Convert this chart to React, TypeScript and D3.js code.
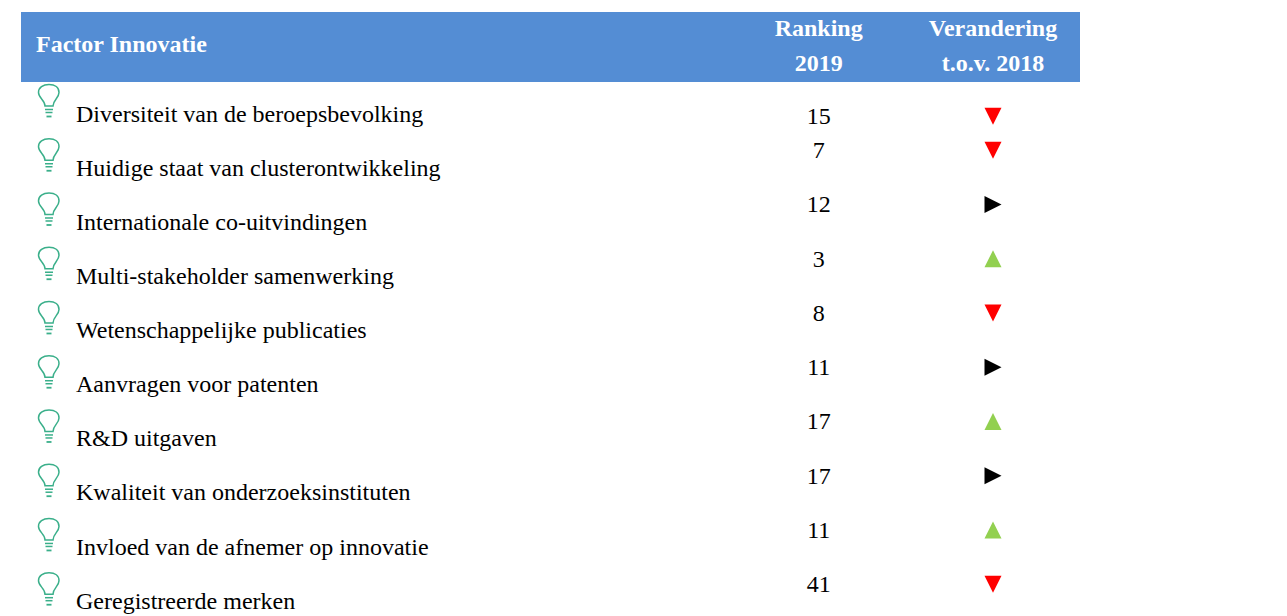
import React from "react";
import * as d3 from "d3";

const title = "Factor Innovatie";
const headerRanking = ["Ranking", "2019"];
const headerChange = ["Verandering", "t.o.v. 2018"];
const factors = [
  "Diversiteit van de beroepsbevolking",
  "Huidige staat van clusterontwikkeling",
  "Internationale co-uitvindingen",
  "Multi-stakeholder samenwerking",
  "Wetenschappelijke publicaties",
  "Aanvragen voor patenten",
  "R&D uitgaven",
  "Kwaliteit van onderzoeksinstituten",
  "Invloed van de afnemer op innovatie",
  "Geregistreerde merken",
];
const rankings = [15, 7, 12, 3, 8, 11, 17, 17, 11, 41];
const changes = ["down", "down", "same", "up", "down", "same", "up", "same", "up", "down"];

const colors: Record<string, string> = { down: "#ff0000", same: "#000000", up: "#92d050" };
const FONT = "'Liberation Serif', 'Times New Roman', serif";

const rowY = d3.scaleLinear().domain([0, 9]).range([0, 488.2]);
const labelY = d3.scaleLinear().domain([0, 9]).range([122, 608.6]);

function Marker({ kind, cx, cy }: { kind: string; cx: number; cy: number }) {
  const s = 8.5;
  const pts =
    kind === "down"
      ? [[cx - s, cy - s], [cx + s, cy - s], [cx, cy + s]]
      : kind === "up"
      ? [[cx - s, cy + s], [cx + s, cy + s], [cx, cy - s]]
      : [[cx - s, cy - s], [cx + s, cy], [cx - s, cy + s]];
  return <polygon points={pts.map((p) => p.join(",")).join(" ")} fill={colors[kind]} />;
}

function Bulb({ y }: { y: number }) {
  const c = "#3aaf8a";
  const bulb = d3.path();
  bulb.moveTo(45, 22);
  bulb.bezierCurveTo(45, 16, 38.5, 14, 38.5, 8.5);
  bulb.bezierCurveTo(38.5, 3.5, 43, 0.5, 49, 0.5);
  bulb.bezierCurveTo(55, 0.5, 59, 3.5, 59, 8.5);
  bulb.bezierCurveTo(59, 14, 53, 16, 53, 22);
  bulb.closePath();
  return (
    <g transform={`translate(0,${y})`} fill="none" stroke={c}>
      <path d={bulb.toString()} strokeWidth={1.5} />
      <line x1={45} x2={53} y1={25.5} y2={25.5} strokeWidth={1.5} />
      <line x1={45.5} x2={52.5} y1={28.5} y2={28.5} strokeWidth={1.5} />
      <line x1={46.5} x2={51.5} y1={32.5} y2={32.5} strokeWidth={1.8} />
    </g>
  );
}

export default function App() {
  const colRank = 818.7;
  const colChange = 993;
  return (
    <svg
      width={1287}
      height={616}
      style={{ position: "absolute", left: 0, top: 0, display: "block" }}
      fontFamily={FONT}
    >
      <rect x={21} y={12} width={1059} height={70} fill="#548dd4" />
      <text x={36} y={52} fontSize={24} fontWeight="bold" fill="#fff">{title}</text>
      {headerRanking.map((t, i) => (
        <text key={t} x={colRank} y={36 + i * 34.5} fontSize={24} fontWeight="bold" fill="#fff" textAnchor="middle">{t}</text>
      ))}
      {headerChange.map((t, i) => (
        <text key={t} x={colChange} y={36 + i * 34.5} fontSize={24} fontWeight="bold" fill="#fff" textAnchor="middle">{t}</text>
      ))}
      {factors.map((f, i) => {
        const y = rowY(i);
        const first = i === 0;
        const rankBase = first ? 124.3 : 104 + y;
        return (
          <g key={f}>
            <Bulb y={84 + y} />
            <text x={76} y={labelY(i)} fontSize={24} fill="#000">{f}</text>
            <text x={colRank} y={rankBase} fontSize={24} fill="#000" textAnchor="middle">{rankings[i]}</text>
            <Marker kind={changes[i]} cx={colChange} cy={rankBase - 8} />
          </g>
        );
      })}
    </svg>
  );
}
